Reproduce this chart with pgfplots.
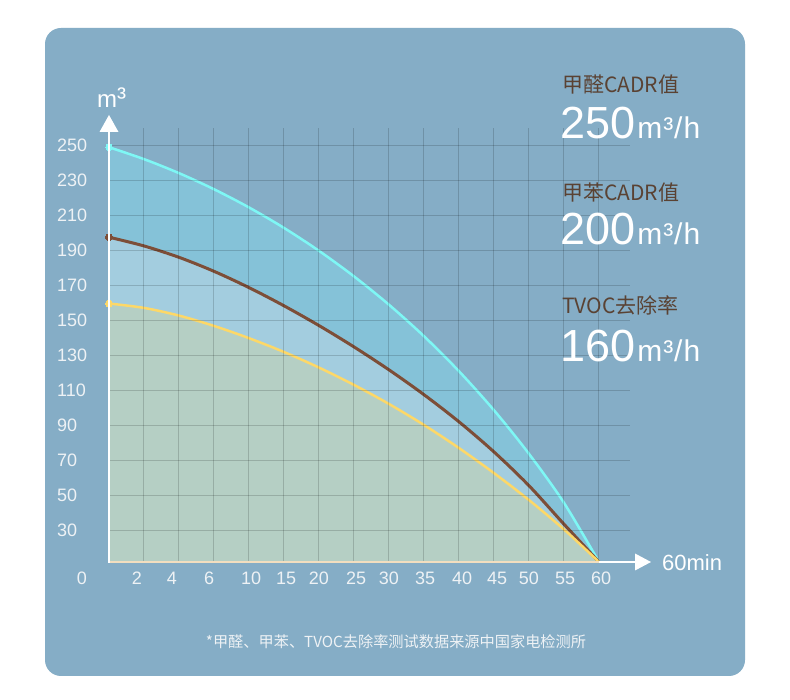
\documentclass[border=0pt]{standalone}
\usepackage{fontspec}
\setmainfont{Liberation Sans}
\newfontfamily\cjk{Noto Sans CJK SC}
\usepackage{pgfplots}
\pgfplotsset{compat=1.18}
\definecolor{bgc}{HTML}{85ADC6}
\definecolor{bandC}{HTML}{85C2D8}
\definecolor{bandB}{HTML}{A3CDDF}
\definecolor{bandY}{HTML}{B5CFC4}
\definecolor{cyanL}{HTML}{7EF7F5}
\definecolor{brownL}{HTML}{7D4E38}
\definecolor{yellowL}{HTML}{FDD868}
\definecolor{beige}{HTML}{F2DEBF}
\definecolor{titlec}{HTML}{5A4233}
\definecolor{tickc}{HTML}{EEF2F5}
\begin{document}
\begin{tikzpicture}
\fill[white] (0pt,0pt) rectangle (790pt,700pt);
\fill[bgc, rounded corners=16pt] (45pt,24pt) rectangle (745pt,672pt);
\begin{axis}[
  at={(109pt,138pt)}, anchor=south west,
  scale only axis, width=521pt, height=434pt,
  xmin=0, xmax=14.886, ymin=12, ymax=260,
  axis on top,
  axis line style={draw=none},
  major tick length=0pt,
  xtick={0.8,1.8,2.86,4.06,5.06,6,7.06,8,9.03,10.09,11.09,12,13.03,14.06},
  xticklabels={2,4,6,10,15,20,25,30,35,40,45,50,55,60},
  extra x ticks={1,2,3,4,5,6,7,8,9,10,11,12,13,14},
  extra x tick labels={},
  extra x tick style={grid=major},
  ytick={30,50,70,90,110,130,150,170,190,210,230,250},
  ymajorgrids,
  major grid style={black, opacity=0.16, line width=1pt},
  /pgf/number format/assume math mode=true,
  yticklabel style={anchor=west, inner sep=0pt, xshift=-52pt, text=tickc, font=\fontsize{18}{20}\selectfont},
  xticklabel style={anchor=base, inner sep=0pt, yshift=-22.5pt, text=tickc, font=\fontsize{18}{20}\selectfont},
]
\addplot[fill=bandC, draw=none, smooth] coordinates {
(0,249) (1,242.2) (2,234.2) (3,225.0) (4,214.6) (5,202.9) (6,189.8) (7,175.2)
(8,159.0) (9,141.0) (10,121.0) (11,98.7) (12,73.8) (13,45.8) (14,12)} \closedcycle;
\addplot[fill=bandB, draw=none, smooth] coordinates {
(0,197.6) (1,192.6) (2,186.1) (3,178.1) (4,168.8) (5,158.4) (6,147.1) (7,134.9)
(8,121.8) (9,107.6) (10,92.1) (11,74.9) (12,55.6) (13,33.6) (14,12)} \closedcycle;
\addplot[fill=bandY, draw=none, smooth] coordinates {
(0,159.7) (1,157.2) (2,152.8) (3,146.9) (4,139.9) (5,132.0) (6,123.1) (7,113.2)
(8,102.3) (9,90.3) (10,77.1) (11,62.8) (12,47.4) (13,30.6) (14,12)} \closedcycle;
\addplot[cyanL, line width=2.5pt, smooth, mark=*, mark indices={1}, mark size=3.3pt,
  mark options={line width=0pt, fill=cyanL, draw=cyanL}] coordinates {
(0,249) (1,242.2) (2,234.2) (3,225.0) (4,214.6) (5,202.9) (6,189.8) (7,175.2)
(8,159.0) (9,141.0) (10,121.0) (11,98.7) (12,73.8) (13,45.8) (14,12)};
\addplot[brownL, line width=3pt, smooth, mark=*, mark indices={1}, mark size=3.5pt,
  mark options={line width=0pt, fill=brownL, draw=brownL}] coordinates {
(0,197.6) (1,192.6) (2,186.1) (3,178.1) (4,168.8) (5,158.4) (6,147.1) (7,134.9)
(8,121.8) (9,107.6) (10,92.1) (11,74.9) (12,55.6) (13,33.6) (14,12)};
\addplot[yellowL, line width=2.5pt, smooth, mark=*, mark indices={1}, mark size=3.5pt,
  mark options={line width=0pt, fill=yellowL, draw=yellowL}] coordinates {
(0,159.7) (1,157.2) (2,152.8) (3,146.9) (4,139.9) (5,132.0) (6,123.1) (7,113.2)
(8,102.3) (9,90.3) (10,77.1) (11,62.8) (12,47.4) (13,30.6) (14,12)};
\end{axis}
% axes and arrows
\draw[beige, line width=2.5pt] (109pt,138pt) -- (599pt,138pt);
\draw[white, line width=2.5pt] (599pt,138pt) -- (637pt,138pt);
\fill[white] (651pt,138pt) -- (635pt,146.5pt) -- (635pt,129.5pt) -- cycle;
\draw[white, line width=2pt] (109pt,137pt) -- (109pt,569pt);
\fill[white] (109pt,585pt) -- (99.5pt,568pt) -- (118.5pt,568pt) -- cycle;
% axis texts
\node[anchor=base west, inner sep=0pt, text=white] at (97pt,592pt) {\fontsize{24}{24}\selectfont m\raisebox{1pt}{\fontsize{27}{27}\selectfont ³}};
\node[anchor=base, inner sep=0pt, text=tickc, font=\fontsize{18}{20}\selectfont] at (82pt,115.5pt) {0};
\node[anchor=base west, inner sep=0pt, text=white, font=\fontsize{22}{22}\selectfont] at (662pt,129pt) {60min};
% right block
\node[anchor=west, inner sep=0pt, text=titlec, font=\cjk\fontsize{21}{22}\selectfont] at (562pt,615pt) {甲醛CADR值};
\node[anchor=base west, inner sep=0pt, text=white] at (560pt,561pt) {\fontsize{45}{45}\selectfont 250\fontsize{30}{30}\selectfont\kern2pt m\kern1pt³\kern1pt/\kern1pt h};
\node[anchor=west, inner sep=0pt, text=titlec, font=\cjk\fontsize{21}{22}\selectfont] at (562pt,507pt) {甲苯CADR值};
\node[anchor=base west, inner sep=0pt, text=white] at (560pt,455pt) {\fontsize{45}{45}\selectfont 200\fontsize{30}{30}\selectfont\kern2pt m\kern1pt³\kern1pt/\kern1pt h};
\node[anchor=west, inner sep=0pt, text=titlec, font=\cjk\fontsize{21}{22}\selectfont] at (562pt,395pt) {TVOC去除率};
\node[anchor=base west, inner sep=0pt, text=white] at (560pt,338.3pt) {\fontsize{45}{45}\selectfont 160\fontsize{30}{30}\selectfont\kern2pt m\kern1pt³\kern1pt/\kern1pt h};
% footer
\node[text=tickc, font=\cjk\fontsize{15.2}{16}\selectfont] at (396pt,58pt) {*甲醛、甲苯、TVOC去除率测试数据来源中国家电检测所};
\end{tikzpicture}
\end{document}
